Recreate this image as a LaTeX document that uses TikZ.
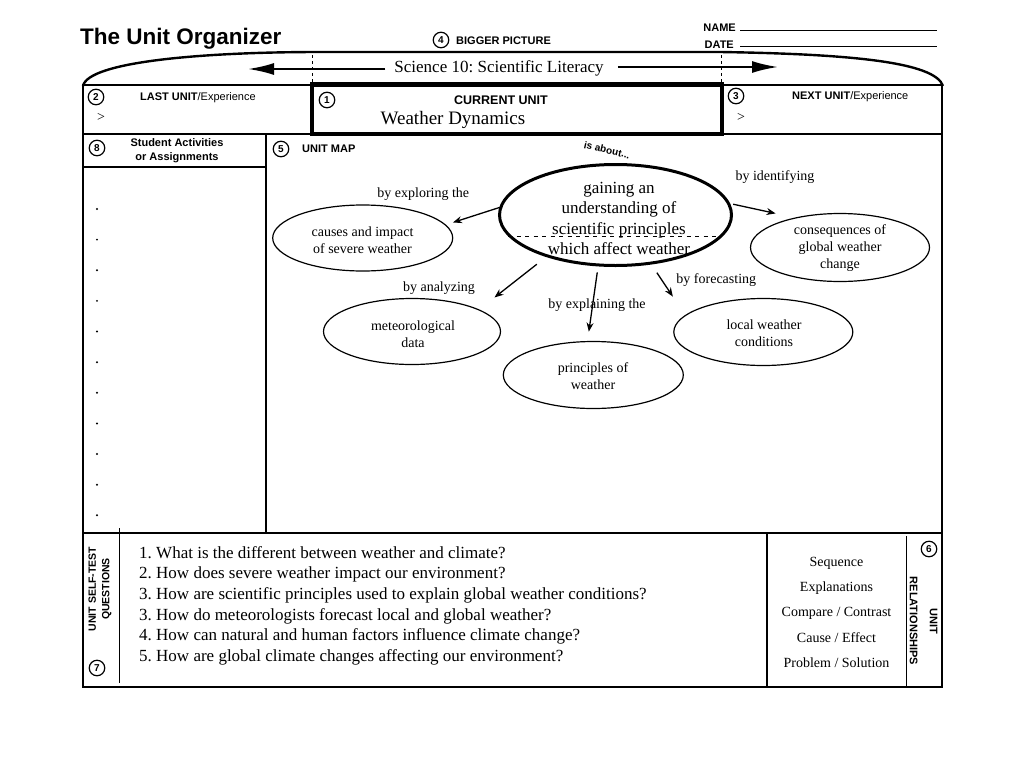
\documentclass[tikz,border=0pt]{standalone}
\usepackage{fontspec}
\setmainfont{Liberation Serif}
\newfontfamily\arialf{Liberation Sans}
\usetikzlibrary{arrows.meta,shapes.geometric}
\frenchspacing
\begin{document}
\begin{tikzpicture}[x=1pt,y=-1pt,
  frame/.style={line width=2pt},
  num/.style={circle,draw,line width=1.2pt,inner sep=0pt,minimum size=15.5pt,font=\arialf\bfseries\fontsize{10}{10}\selectfont},
  lab/.style={font=\arialf\bfseries\fontsize{11}{13}\selectfont,inner sep=0pt},
  labr/.style={font=\arialf\fontsize{11}{13}\selectfont,inner sep=0pt},
  bub/.style={ellipse,draw,line width=1.2pt,inner sep=0pt,outer sep=0pt},
  bubtext/.style={align=center,font=\fontsize{14}{17}\selectfont,inner sep=0pt},
  linktext/.style={font=\fontsize{14}{17}\selectfont,inner sep=0pt},
  maparrow/.style={line width=1.3pt,-{Stealth[length=9pt,width=7pt]}},
  bigarrow/.style={line width=2pt,-{Latex[length=26pt,width=12pt]}},
  question/.style={anchor=base west,font=\fontsize{17}{20}\selectfont,inner sep=0pt},
  relation/.style={anchor=base,font=\fontsize{14}{17}\selectfont,inner sep=0pt},
  dotmark/.style={circle,fill,inner sep=0pt,minimum size=2.2pt}
]
\useasboundingbox (0,0) rectangle (1024,768);

% ---------- heading ----------
\node[anchor=base west,inner sep=0pt,font=\arialf\bfseries\fontsize{22.5}{24}\selectfont] (title) at (80,45) {The Unit Organizer};
\node[num] (n4) at (441,40) {4};
\node[lab,anchor=base west] (bigpic) at (456,45) {BIGGER PICTURE};
\node[lab,anchor=base east] (name) at (736,32) {NAME};
\node[lab,anchor=base east] (date) at (734,48.5) {DATE};
\draw[line width=0.9pt] (740,30.5) -- (937,30.5);
\draw[line width=0.9pt] (740,46.5) -- (937,46.5);

% ---------- top curve ----------
\draw[line width=2.4pt] (83,86) .. controls (88,62) and (200,52) .. (320,52) -- (720,52)
   .. controls (850,54) and (935,62) .. (943,86);
\draw[line width=0.8pt,dash pattern=on 3pt off 3pt] (312,55) -- (312,84);
\draw[line width=0.8pt,dash pattern=on 3pt off 3pt] (721,55) -- (721,84);
\node[font=\fontsize{17}{18}\selectfont,inner sep=0pt] (sci) at (499,68) {Science 10: Scientific Literacy};
\coordinate (arrL) at (248,69);
\coordinate (arrR) at (778,67);
\draw[bigarrow] (sci.west) ++(-9,1) -- (arrL);
\draw[bigarrow] (sci.east) ++(14,-1) -- (arrR);

% ---------- frame ----------
\draw[frame] (83,85) rectangle (942,687);
\draw[frame] (83,133.5) -- (942,133.5);
\draw[frame] (83,533) -- (942,533);
\draw[frame] (265.5,133.5) -- (265.5,533);
\draw[line width=1.4pt] (83,167) -- (265.5,167);
\draw[line width=4.5pt] (312,84.5) rectangle (722,134);

% ---------- top row ----------
\node[num] (n2) at (96,97) {2};
\node[labr,anchor=base west] (last) at (140,100) {\bfseries LAST UNIT\mdseries/Experience};
\node[inner sep=0pt,font=\fontsize{14}{14}\selectfont] (gt1) at (101,117) {>};
\node[num] (n1) at (327,100) {1};
\node[anchor=base,inner sep=0pt,font=\arialf\bfseries\fontsize{12.5}{14}\selectfont] (curunit) at (501,104) {CURRENT UNIT};
\node[inner sep=0pt,font=\fontsize{19}{20}\selectfont] (unitname) at (453,120) {Weather Dynamics};
\node[num] (n3) at (736,96) {3};
\node[labr,anchor=base west] (next) at (792,99) {\bfseries NEXT UNIT\mdseries/Experience};
\node[inner sep=0pt,font=\fontsize{14}{14}\selectfont] (gt2) at (741,117) {>};

% ---------- left column ----------
\node[num] (n8) at (97,148) {8};
\node[lab,align=center,font=\arialf\bfseries\fontsize{11}{14}\selectfont] (acts) at (177,150.5) {Student Activities\\or Assignments};
\foreach \i in {0,...,10} {
  \node[dotmark] (dot\i) at (97,209+30.63*\i) {};
}

% ---------- unit map ----------
\node[num] (n5) at (281,149) {5};
\node[lab,anchor=base west] (umap) at (302,152.5) {UNIT MAP};

\node[rotate=-13,inner sep=0pt,font=\arialf\bfseries\fontsize{10}{10}\selectfont] (isabout) at (607,150) {is about...};

\draw[line width=0.9pt,dash pattern=on 4pt off 4.5pt] (508,236) -- (718,236);
\node[bub,line width=3pt,minimum width=232pt,minimum height=101pt] (c) at (615.5,215) {};
\node[align=center,inner sep=0pt,font=\fontsize{17}{20.3}\selectfont] (ctext) at (619,218.5)
  {gaining an\\understanding of\\scientific principles\\which affect weather};

\node[bub,minimum width=180pt,minimum height=66pt] (causes) at (362.7,238) {};
\node[bubtext] (causest) at (362.5,240) {causes and impact\\of severe weather};

\node[bub,minimum width=179pt,minimum height=68pt] (cons) at (840,247.5) {};
\node[bubtext] (const) at (840,248) {consequences of\\global weather\\change};

\node[bub,minimum width=177pt,minimum height=66pt] (met) at (412,331.5) {};
\node[bubtext] (mett) at (413,334) {meteorological\\data};

\node[bub,minimum width=180pt,minimum height=67pt] (prin) at (593.3,375) {};
\node[bubtext] (print) at (593,376) {principles of\\weather};

\node[bub,minimum width=179pt,minimum height=67pt] (local) at (763.3,332) {};
\node[bubtext] (localt) at (764,333) {local weather\\conditions};

\node[linktext] (l1) at (423.3,194) {by exploring the};
\node[linktext] (l2) at (775,177) {by identifying};
\node[linktext] (l3) at (439,288.5) {by analyzing};
\node[linktext] (l4) at (597,305) {by explaining the};
\node[linktext] (l5) at (716.3,280) {by forecasting};

\draw[maparrow,shorten >=8pt] (c.176) -- (causes.9);
\draw[maparrow,shorten <=5pt,shorten >=21pt] (c.6) -- (cons.146);
\draw[maparrow,shorten <=13.5pt,shorten >=20pt] (c.211) -- (met.18);
\draw[maparrow,shorten <=7.5pt,shorten >=10pt] (c.251) -- (prin.100);
\draw[maparrow,shorten <=11.5pt,shorten >=22.7pt] (c.306) -- (local.168);

% ---------- bottom row ----------
\draw[line width=0.8pt] (119,528) -- (119,683);
\draw[frame] (766.5,533) -- (766.5,687);
\draw[line width=1pt] (906,536) -- (906,687);

\node[rotate=90,align=center,inner sep=0pt,font=\arialf\bfseries\fontsize{10.5}{13.4}\selectfont] (selftest) at (100,589) {UNIT SELF-TEST\\QUESTIONS};
\node[num] (n7) at (97,668) {7};

\node[question] (q1) at (139,558) {1. What is the different between weather and climate?};
\node[question] (q2) at (139,578.7) {2. How does severe weather impact our environment?};
\node[question] (q3) at (139,599.4) {3. How are scientific principles used to explain global weather conditions?};
\node[question] (q4) at (139,620.1) {3. How do meteorologists forecast local and global weather?};
\node[question] (q5) at (139,640.8) {4. How can natural and human factors influence climate change?};
\node[question] (q6) at (139,661.5) {5. How are global climate changes affecting our environment?};

\node[relation] (r1) at (836.5,566) {Sequence};
\node[relation] (r2) at (836.5,591.4) {Explanations};
\node[relation] (r3) at (836.5,616.8) {Compare / Contrast};
\node[relation] (r4) at (836.5,642.2) {Cause / Effect};
\node[relation] (r5) at (836.5,667.6) {Problem / Solution};

\node[num] (n6) at (929,549) {6};
\node[rotate=-90,align=center,inner sep=0pt,font=\arialf\bfseries\fontsize{11}{20}\selectfont] (unitrel) at (923.5,621) {UNIT\\RELATIONSHIPS};
\end{tikzpicture}
\end{document}
